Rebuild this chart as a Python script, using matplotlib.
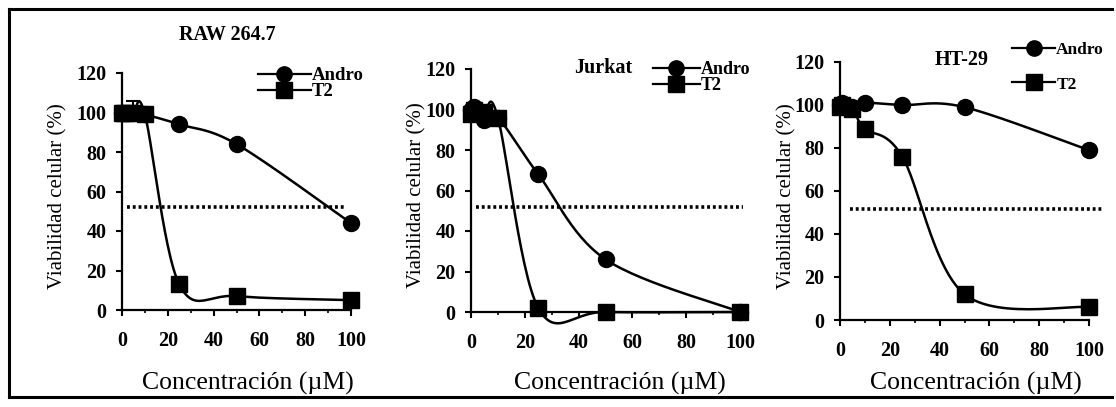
import matplotlib
matplotlib.use('Agg')
import matplotlib.pyplot as plt
import numpy as np
from matplotlib.lines import Line2D

plt.rcParams['font.family'] = ['Liberation Serif', 'DejaVu Serif']

# datos
conc = [0, 1, 5, 10, 25, 50, 100]
titles = ['RAW 264.7', 'Jurkat', 'HT-29']
andro = [
    [100, 100, 100, 99, 94, 84, 44],
    [100, 101, 95, 96, 68, 26, 0],
    [100, 101, 99, 101, 100, 99, 79],
]
t2 = [
    [100, 100, 100, 99, 13, 7, 5],
    [98, 100, 99, 96, 2, 0, 0],
    [99, 100, 98, 89, 76, 12, 6],
]
t2_err = [
    [0, 0, 6, 0, 0, 0, 0],
    [0, 0, 0, 0, 0, 0, 0],
    [0, 0, 0, 0, 0, 0, 0],
]
ic50 = [52, 52, 51.5]
ic50_x = [(2, 98), (2, 101), (4, 106)]

W, H = 1116, 407
fig = plt.figure(figsize=(W / 100, H / 100), dpi=100)

# ejes en pixeles: izquierda, derecha, arriba, abajo
boxes = [(122, 351, 73, 310), (471, 740, 69, 312), (840, 1089, 62, 320)]
title_pos = [(227, 35), (603, 68), (962, 60)]
ylab_x = [58, 417, 787]
xlab_x = [248, 620, 976]
leg_pos = [(258, 67), (653, 61), (1012, 42)]
leg_space = [-0.05, -0.05, 1.05]
leg_size = [13.5, 13, 12.5]
leg_hlen = [2.8, 2.6, 2.5]


def smooth(x, y, ax):
    # curva suavizada tipo Excel (Bezier con tension 1/6), en pixeles
    bb = ax.get_position()
    sx = bb.width * W / 100.0
    sy = bb.height * H / 120.0
    p = np.column_stack([np.asarray(x, float) * sx, np.asarray(y, float) * sy])
    n = len(p)
    out = [p[0]]
    t = np.linspace(0, 1, 30)[1:, None]
    for i in range(n - 1):
        p0 = p[max(i - 1, 0)]
        p1 = p[i]
        p2 = p[i + 1]
        p3 = p[min(i + 2, n - 1)]
        c1 = p1 + (p2 - p0) / 6.0
        c2 = p2 - (p3 - p1) / 6.0
        seg = ((1 - t) ** 3) * p1 + 3 * ((1 - t) ** 2) * t * c1 + 3 * (1 - t) * t ** 2 * c2 + t ** 3 * p2
        out.extend(seg)
    out = np.array(out)
    return out[:, 0] / sx, out[:, 1] / sy


for k in range(3):
    l, r, top, bot = boxes[k]
    ax = fig.add_axes([l / W, 1 - bot / H, (r - l) / W, (bot - top) / H])
    ax.set_xlim(0, 100)
    ax.set_ylim(0, 120)

    xs, ys = smooth(conc, andro[k], ax)
    ax.plot(xs, ys, color='black', lw=1.8, clip_on=False, zorder=3)
    xs, ys = smooth(conc, t2[k], ax)
    ax.plot(xs, ys, color='black', lw=1.8, clip_on=False, zorder=3)

    ax.errorbar(conc, t2[k], yerr=[np.zeros(len(conc)), t2_err[k]], fmt='none',
                ecolor='black', elinewidth=1.5, capsize=5, capthick=1.5, clip_on=False)
    ax.plot(conc, andro[k], 'o', color='black', ms=11.5, clip_on=False, zorder=4)
    ax.plot(conc, t2[k], 's', color='black', ms=11, clip_on=False, zorder=4)

    ax.plot(ic50_x[k], [ic50[k], ic50[k]], color='black', lw=2.6,
            ls=(0, (0.8, 0.8)), clip_on=False, zorder=2)

    for s in ['top', 'right']:
        ax.spines[s].set_visible(False)
    for s in ['left', 'bottom']:
        ax.spines[s].set_linewidth(1.6)
    ax.set_xticks([0, 20, 40, 60, 80, 100])
    ax.set_xticks(range(0, 101, 10), minor=True)
    ax.set_yticks(range(0, 121, 20))
    ax.tick_params(axis='both', direction='out', length=4, width=1.5,
                   labelsize=14.5)
    ax.tick_params(axis='x', pad=11)
    ax.tick_params(axis='y', pad=7)
    ax.tick_params(which='minor', length=2.5, width=1.2)
    for lab in ax.get_xticklabels() + ax.get_yticklabels():
        lab.set_fontweight('bold')

    handles = [Line2D([], [], color='black', lw=1.6, marker='o', ms=11),
               Line2D([], [], color='black', lw=1.6, marker='s', ms=11)]
    lx, ly = leg_pos[k]
    ax.legend(handles, ['Andro', 'T2'], loc='upper left',
              bbox_to_anchor=(lx / W, 1 - ly / H), bbox_transform=fig.transFigure,
              frameon=False, borderpad=0, borderaxespad=0,
              handlelength=leg_hlen[k], handletextpad=0.05,
              labelspacing=leg_space[k], prop={'size': leg_size[k], 'weight': 'bold'})

    tx, ty = title_pos[k]
    fig.text(tx / W, 1 - ty / H, titles[k], ha='center', va='center',
             fontsize=14.5, fontweight='bold')
    fig.text(ylab_x[k] / W, 1 - ((top + bot) / 2 + 5) / H, 'Viabilidad celular (%)',
             rotation=90, ha='center', va='center', fontsize=15)
    fig.text(xlab_x[k] / W, 1 - 383 / H, 'Concentración (µM)', ha='center',
             va='center', fontsize=18.5)

# marco exterior
fig.add_artist(Line2D([9 / W, 9 / W], [1 - 397 / H, 1 - 9 / H], color='black', lw=2.2))
fig.add_artist(Line2D([9 / W, 1112 / W], [1 - 9 / H, 1 - 9 / H], color='black', lw=2.2))
fig.add_artist(Line2D([9 / W, 1112 / W], [1 - 397 / H, 1 - 397 / H], color='black', lw=2.2))

fig.savefig('out.png', dpi=100)
